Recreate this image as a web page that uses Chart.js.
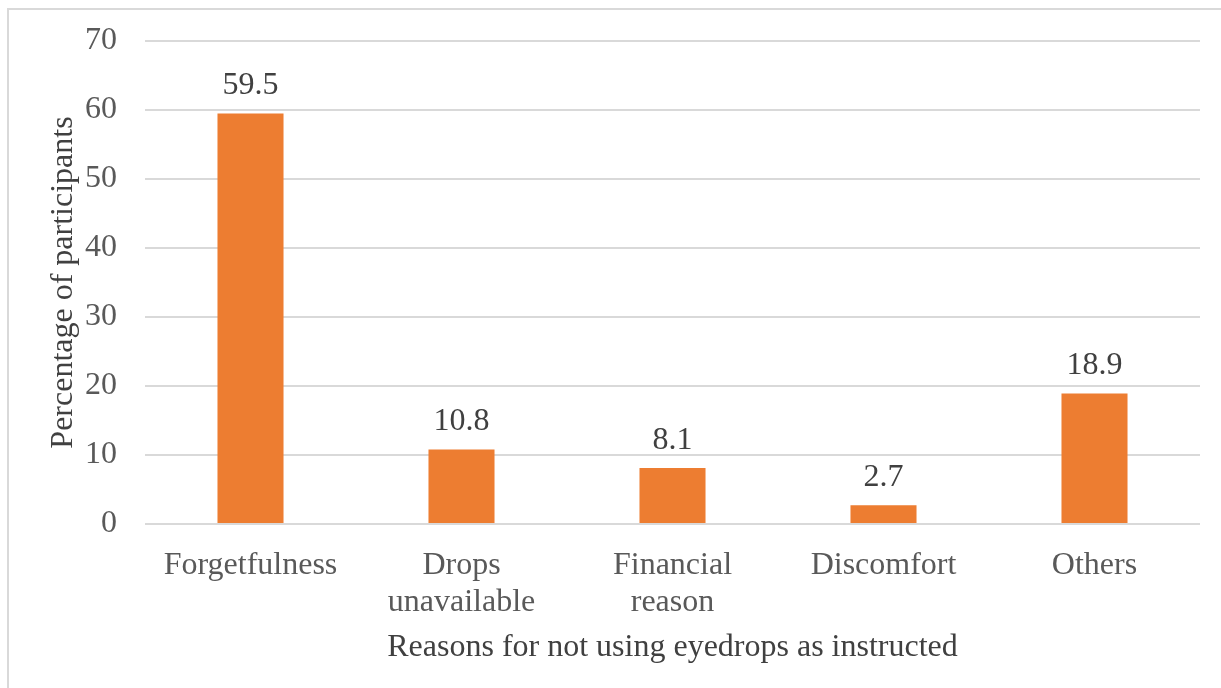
<!DOCTYPE html>
<html>
<head>
<meta charset="utf-8">
<script src="https://cdn.jsdelivr.net/npm/chart.js@4.4.0/dist/chart.umd.min.js"></script>
<style>
  html, body { margin: 0; padding: 0; background: #fff; overflow: hidden; }
  #frame { position: absolute; left: 7px; top: 8px; width: 1400px; height: 900px; border: 2px solid #d9d9d9; }
  #wrap { position: absolute; left: 0; top: 0; width: 1221px; height: 688px; }
</style>
</head>
<body>
<div id="frame"></div>
<div id="wrap"><canvas id="reasonsChart" width="1221" height="688"></canvas></div>
<script>
  const categories = [
    'Forgetfulness',
    ['Drops', 'unavailable'],
    ['Financial', 'reason'],
    'Discomfort',
    'Others'
  ];
  const percentages = [59.5, 10.8, 8.1, 2.7, 18.9];
  const yTicks = [0, 10, 20, 30, 40, 50, 60, 70];

  const serif = '"Liberation Serif", "Times New Roman", serif';

  // value labels above each bar
  const valueLabels = {
    id: 'valueLabels',
    afterDatasetsDraw(chart) {
      const ctx = chart.ctx;
      const meta = chart.getDatasetMeta(0);
      ctx.save();
      ctx.font = '32px ' + serif;
      ctx.fillStyle = '#404040';
      ctx.textAlign = 'center';
      ctx.textBaseline = 'middle';
      meta.data.forEach((bar, i) => {
        ctx.fillText(percentages[i].toString(), bar.x, bar.y - 28);
      });
      ctx.restore();
    }
  };

  const ctx = document.getElementById('reasonsChart').getContext('2d');

  new Chart(ctx, {
    type: 'bar',
    data: {
      labels: categories,
      datasets: [{
        data: percentages,
        backgroundColor: '#ED7D31',
        borderWidth: 0,
        barPercentage: 0.313,
        categoryPercentage: 1
      }]
    },
    options: {
      responsive: false,
      animation: false,
      devicePixelRatio: 1,
      layout: { padding: { top: 41, right: 21, bottom: 0, left: 0 } },
      plugins: {
        legend: { display: false },
        tooltip: { enabled: false }
      },
      scales: {
        y: {
          min: 0,
          max: 70,
          afterBuildTicks: (s) => { s.ticks = yTicks.map(v => ({ value: v })); },
          afterFit: (s) => { s.width = 145; s.paddingTop = 0; s.paddingBottom = 0; },
          ticks: {
            color: '#595959',
            font: { family: serif, size: 32 },
            padding: 28
          },
          grid: { color: '#d9d9d9', lineWidth: 2, drawTicks: false },
          border: { display: false },
          title: {
            display: true,
            text: 'Percentage of participants',
            color: '#404040',
            font: { family: serif, size: 32 },
            padding: { top: 44, bottom: 0 }
          }
        },
        x: {
          afterFit: (s) => { s.height = 164; },
          ticks: {
            color: '#595959',
            font: { family: serif, size: 32, lineHeight: 1.15 },
            padding: 15,
            maxRotation: 0
          },
          grid: { display: false },
          border: { display: false },
          title: {
            display: true,
            text: 'Reasons for not using eyedrops as instructed',
            color: '#404040',
            font: { family: serif, size: 32 },
            padding: { top: 0, bottom: 21 }
          }
        }
      }
    },
    plugins: [valueLabels]
  });
</script>
</body>
</html>
